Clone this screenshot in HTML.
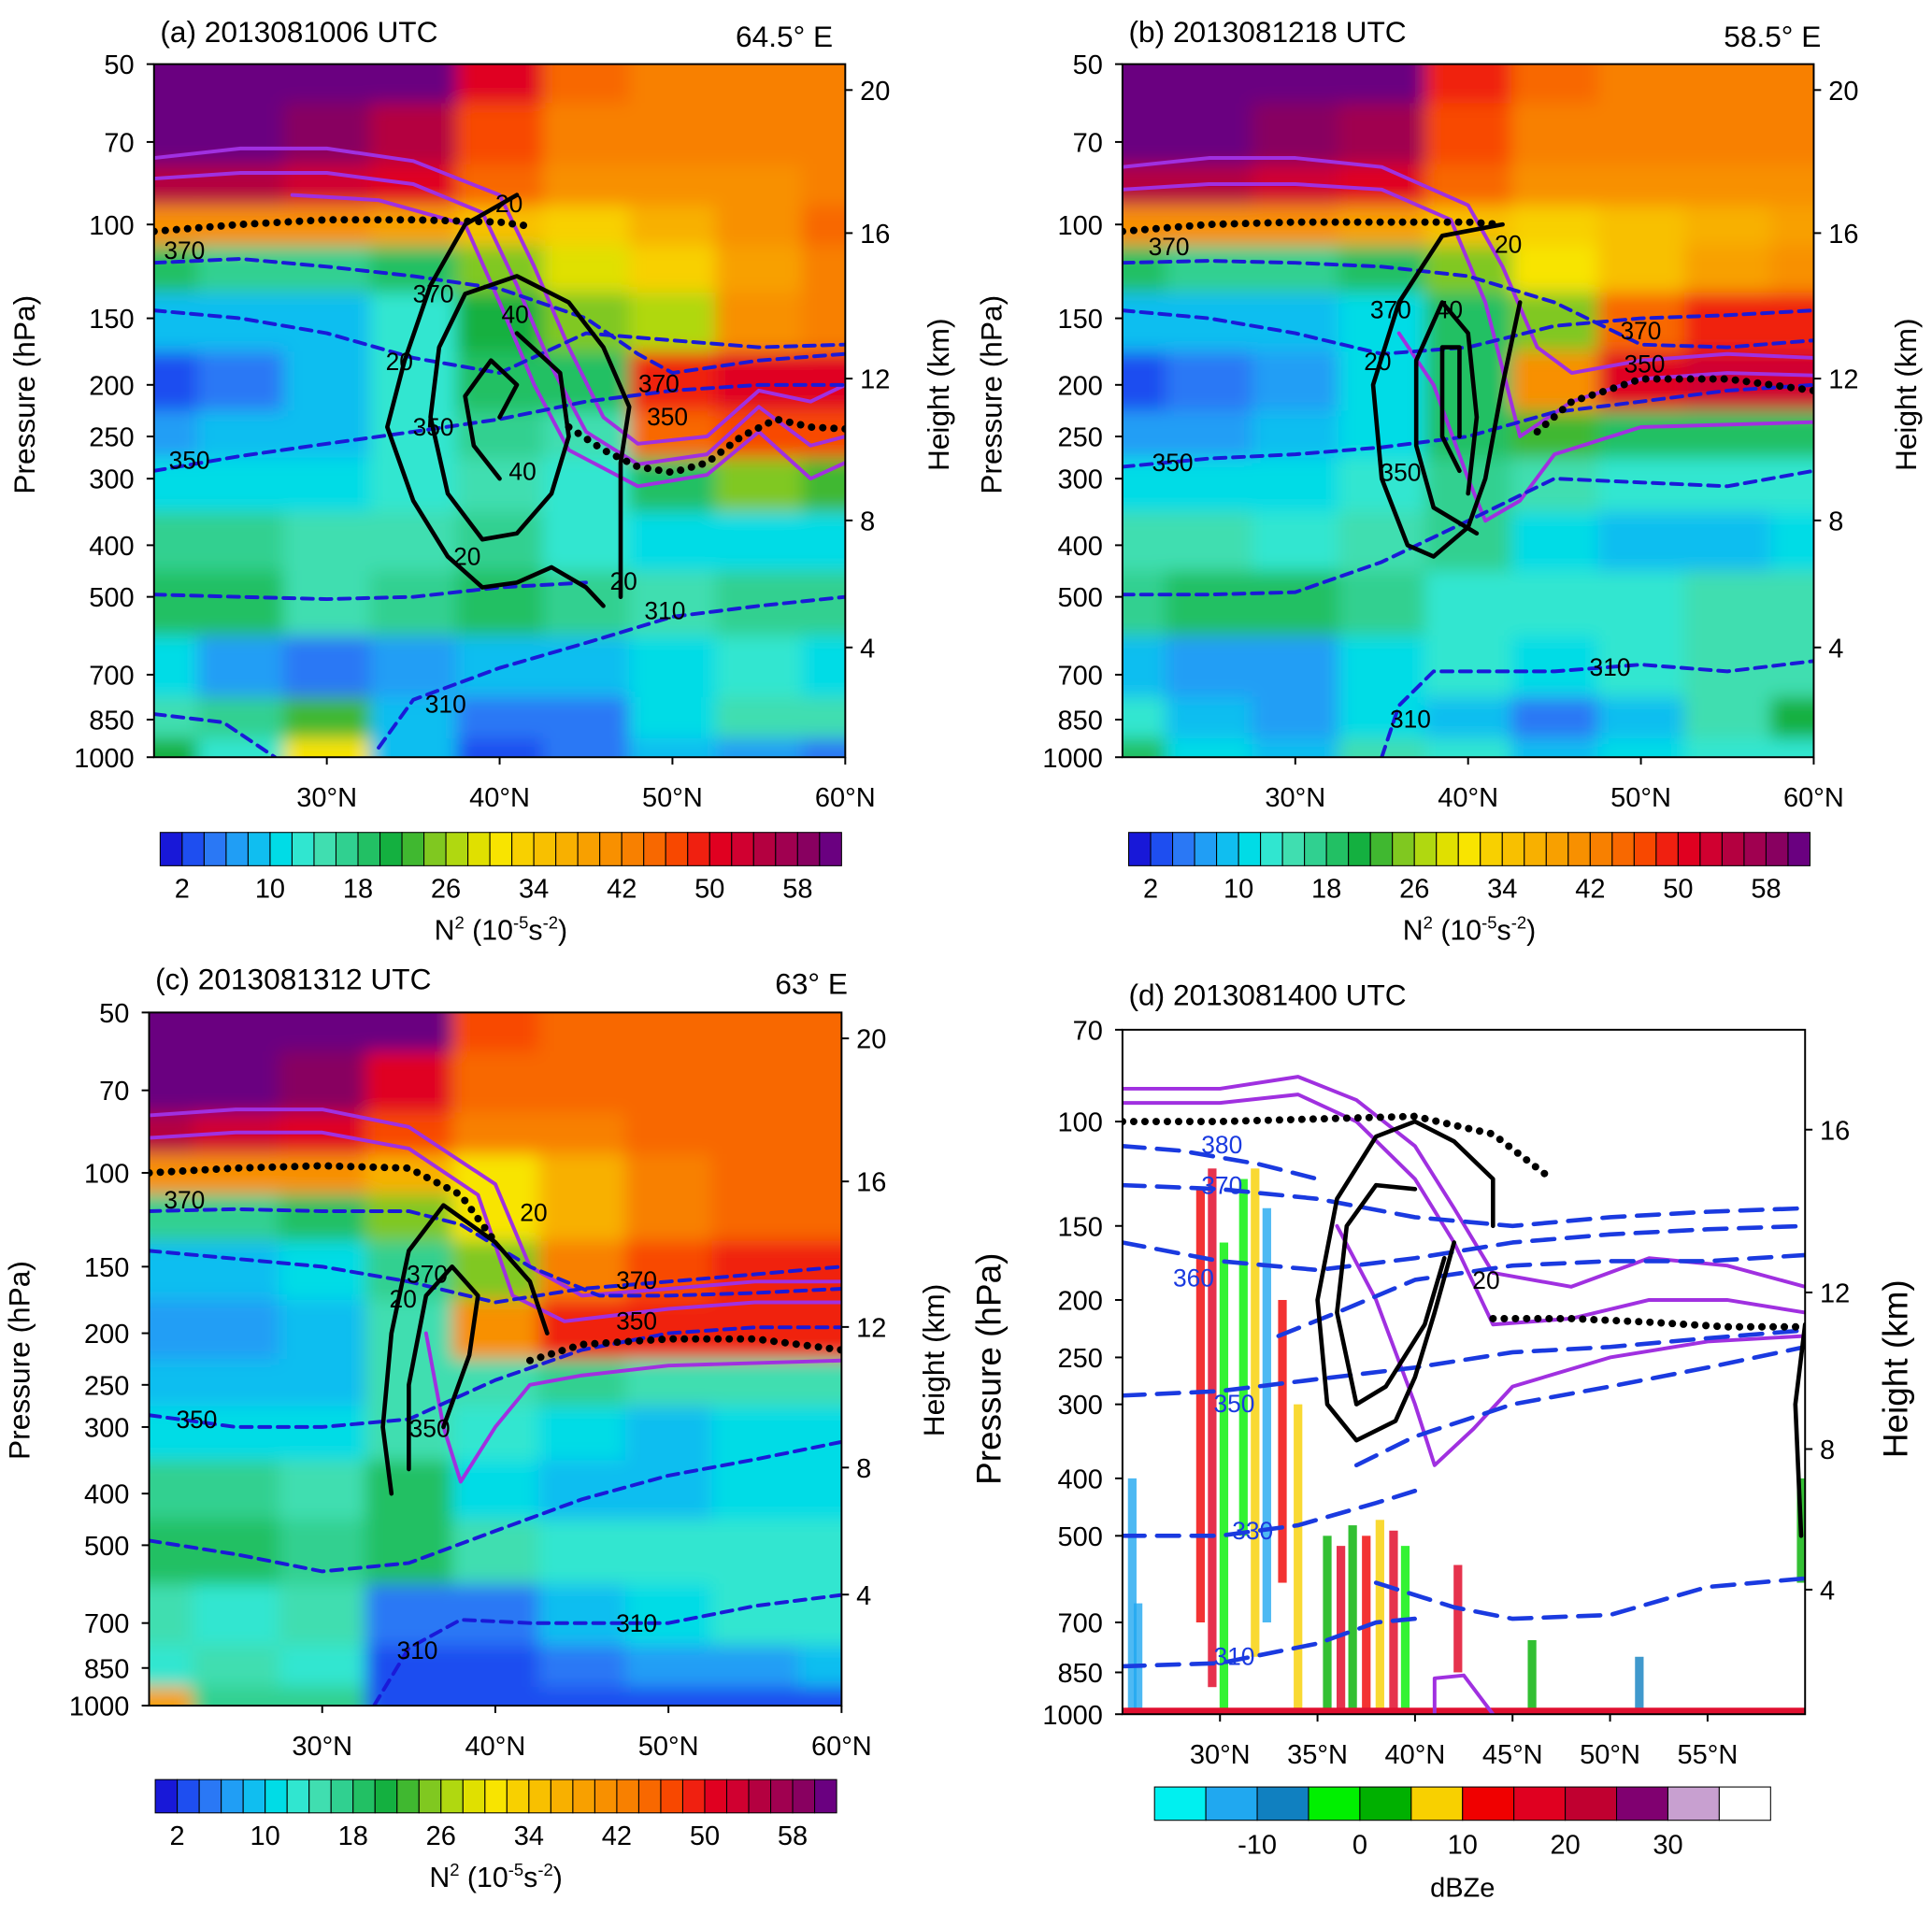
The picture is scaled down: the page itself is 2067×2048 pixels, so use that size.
<!DOCTYPE html>
<html><head><meta charset="utf-8"><style>
html,body{margin:0;padding:0;background:#fff;}
svg{display:block;font-family:"Liberation Sans",sans-serif;}
</style></head><body>
<svg id="fig" width="2067" height="2048" viewBox="0 0 1568 1552" preserveAspectRatio="none" xmlns="http://www.w3.org/2000/svg">
<defs><filter id="blur" x="-5%" y="-5%" width="110%" height="110%"><feGaussianBlur stdDeviation="7"/></filter></defs>
</svg>
<script>
// ---------- data ----------
const lats = [20,25,30,35,40,45,50,55,60];
const levels = [50,70,85,100,120,150,200,250,300,400,500,700,850,1000];
const n2A = [
[60,60,60,60,50,44,42,42,42],[60,60,58,54,46,42,42,42,42],[54,54,52,50,44,40,40,40,42],
[40,40,40,38,34,32,36,40,44],[18,16,16,18,24,28,32,38,42],[8,8,8,12,20,24,26,40,42],
[2,4,8,12,18,18,48,50,50],[6,8,8,12,16,14,44,46,46],[10,10,10,12,14,12,18,24,22],
[16,16,14,14,16,12,10,10,10],[18,18,14,16,18,16,14,16,16],[10,6,4,6,8,8,10,12,10],
[14,16,22,8,4,4,10,14,14],[20,12,30,8,2,4,8,6,4]];
const n2B = [
[60,60,60,60,48,44,42,42,42],[60,60,58,56,46,42,42,42,42],[54,54,52,50,44,40,40,40,40],
[40,40,40,38,34,32,34,36,38],[18,16,16,18,24,30,34,38,40],[8,8,8,10,18,24,44,48,48],
[2,4,6,10,18,40,50,52,52],[6,6,8,10,18,22,18,18,18],[10,10,10,12,16,14,12,12,12],
[14,14,12,14,16,10,8,8,10],[16,18,18,16,12,12,12,14,14],[8,6,6,10,12,10,12,14,14],
[12,8,6,10,8,4,8,14,20],[18,10,8,14,12,8,10,12,12]];
const n2C = [
[60,60,60,60,46,44,44,44,44],[60,60,58,50,44,44,44,44,44],[54,52,50,46,42,42,44,44,44],
[40,40,40,36,30,36,42,44,44],[16,16,18,24,30,36,42,44,44],[8,8,10,16,24,42,46,48,48],
[6,6,8,14,40,48,48,48,48],[8,8,8,14,14,16,14,14,14],[10,10,10,14,12,10,8,10,10],
[16,16,14,18,10,8,8,10,10],[18,18,16,18,14,12,12,12,12],[14,12,14,4,4,8,10,12,12],
[12,14,12,2,2,4,6,6,8],[38,16,16,2,2,2,2,2,2]];
const n2Colors = ["#1818d8","#1e4ef0","#2a78f5","#209ef5","#10bef0","#00dce6","#30e6d0","#40deb0","#30d090","#22c064","#14b040","#40b830","#80c820","#b0d810","#e0e000","#f8e400","#f8d000","#f8c000","#f8b000","#f8a000","#f89000","#f88000","#f86800","#f84800","#f02010","#e00020","#d00030","#b40040","#a00050","#880060","#6a0080"];
const n2Ticks = [2,10,18,26,34,42,50,58];
const pTicks = [50,70,100,150,200,250,300,400,500,700,850,1000];
const pTicksD = [70,100,150,200,250,300,400,500,700,850,1000];
const latTicks = [30,40,50,60];
const latTicksD = [30,35,40,45,50,55];
const zTicks = [20,16,12,8,4];
const zTicksD = [16,12,8,4];
// panel (a) lines
const tropA1 = [[20,103],[25,100],[30,98],[35,98],[40,99],[42,101]];
const tropA2 = [[44,240],[46,265],[48,285],[50,292],[52,280],[54,250],[56,232],[58,240],[60,242]];
const thA = [
 [[20,118],[25,116],[30,120],[35,125],[40,132],[45,150],[48,175],[50,190],[55,180],[60,175]],
 [[20,145],[25,150],[30,160],[35,178],[40,190],[45,160],[50,165],[55,170],[60,168]],
 [[20,290],[25,272],[30,258],[35,245],[40,232],[45,215],[50,205],[55,200],[60,200]],
 [[20,495],[25,500],[30,505],[35,500],[40,480],[45,470]],
 [[33,960],[35,780],[40,680],[45,610],[50,545],[55,520],[60,500]],
 [[20,830],[24,860],[27,1000]]];
const pvA = [
 [[41,88],[38,100],[36,130],[34.5,180],[33.5,240],[35,330],[37,420],[39,480],[41,470],[43,440],[45,480],[46,520]],
 [[47,500],[47,380],[47,280],[47.5,220],[46,170],[44,140],[41,125],[38,135],[36.5,170],[36,230],[37,320],[39,390],[41,380],[43,320],[44,250],[43.5,190],[41,160]],
 [[40,300],[38.5,260],[38,210],[39.5,180],[41,200],[40,230]]];
const puA = [
 [[20,75],[25,72],[30,72],[35,76],[40,88],[42,120],[44,170],[46,230],[48,258],[52,250],[55,205],[58,215],[60,200]],
 [[20,82],[25,80],[30,80],[35,84],[39,95],[41,130],[43,185],[45,245],[48,282],[52,270],[55,220],[58,260],[60,250]],
 [[28,88],[33,90],[38,100],[40,140],[42,200],[44,265],[48,310],[52,295],[55,245],[58,300],[60,280]]];
// panel (b)
const tropB1 = [[20,103],[25,100],[30,99],[35,99],[40,99],[42,100]];
const tropB2 = [[44,245],[46,215],[48,205],[50,195],[55,195],[60,205]];
const thB = [
 [[20,118],[25,117],[30,118],[35,120],[40,125],[45,140],[50,168],[55,170],[60,165]],
 [[20,145],[25,150],[30,160],[35,175],[40,170],[45,155],[50,150],[55,148],[60,145]],
 [[20,285],[25,275],[30,270],[35,262],[40,250],[45,225],[50,215],[55,205],[60,200]],
 [[20,495],[25,495],[30,490],[35,430],[40,360],[45,300],[50,305],[55,310],[60,290]],
 [[35,1000],[36,800],[38,690],[45,690],[50,670],[55,690],[60,660]]];
const pvB = [
 [[42,100],[38.5,105],[36,140],[34.5,200],[35,300],[36.5,400],[38,420],[40,370],[41,300],[42,200],[43,140]],
 [[40.5,380],[38,340],[37,260],[37,180],[38.5,140],[40,160],[40.5,230],[40,320]],
 [[39.5,290],[38.5,250],[38.5,170],[39.5,170],[39.5,250]]];
const puB = [
 [[20,78],[25,75],[30,75],[35,78],[40,92],[42,120],[44,170],[46,190],[50,180],[55,175],[60,178]],
 [[20,86],[25,84],[30,84],[35,86],[39,98],[41,140],[43,250],[46,215],[50,195],[55,190],[60,192]],
 [[36,160],[38,200],[40,300],[41,360],[43,330],[45,270],[50,240],[60,235]]];
// panel (c)
const tropC1 = [[20,100],[25,98],[30,97],[35,98],[38,110],[40,135]];
const tropC2 = [[42,225],[45,210],[50,205],[55,205],[60,215]];
const thC = [
 [[20,118],[25,117],[30,118],[35,118],[38,125],[42,150],[46,170],[50,170],[55,168],[60,165]],
 [[20,140],[25,145],[30,150],[35,160],[40,175],[45,165],[50,160],[55,155],[60,150]],
 [[20,285],[25,300],[30,300],[35,290],[40,245],[45,215],[50,200],[55,195],[60,195]],
 [[20,490],[25,520],[30,560],[35,540],[40,470],[45,410],[50,370],[55,345],[60,320]],
 [[33,1000],[35,780],[38,690],[42,700],[50,700],[55,650],[60,620]]];
const pvC = [
 [[34,400],[33.5,300],[34,200],[35,140],[37,115],[40,135],[42,160],[43,200]],
 [[35,360],[35,250],[36,170],[37.5,150],[39,170],[38.5,220],[37,300]]];
const puC = [
 [[20,78],[25,76],[30,76],[35,82],[40,105],[42,150],[45,170],[50,165],[55,160],[60,160]],
 [[20,86],[25,84],[30,84],[35,90],[39,110],[41,170],[44,190],[50,180],[55,175],[60,175]],
 [[36,200],[37,300],[38,380],[40,300],[42,250],[45,240],[50,230],[60,225]]];
// panel (d)
const dbzColors = ["#00f0f0","#20a8f0","#1080c0","#00f000","#00b000","#f8d000","#f00000","#e00020","#c00030","#800070","#c8a0d0","#ffffff"];
const dbzTicks = [-10,0,10,20,30];
const streakLat = [25.5,29.0,29.6,30.2,31.2,31.8,32.4,33.2,34,35.5,36.2,36.8,37.5,38.2,38.9,39.5,42.2,25.8,46,51.5,59.8];
const streakTop = [400,130,120,160,125,120,140,200,300,500,520,480,500,470,490,520,560,650,750,800,400];
const streakBot = [1000,700,900,1000,500,800,700,600,1000,1000,1000,1000,1000,1000,1000,1000,850,1000,1000,1000,600];
const streakDbz = [-15,10,15,-5,-5,5,-15,12,8,0,15,2,12,5,15,-5,15,-15,0,-10,0];
const tropD1 = [[25,100],[30,100],[35,99],[40,98],[44,105],[47,125]];
const tropD2 = [[44,215],[48,215],[52,218],[56,222],[60,222]];
const thD = [
 [[25,110],[28,112],[32,118],[35,125]],
 [[25,128],[30,130],[35,135],[40,145],[45,150],[50,145],[55,142],[60,140]],
 [[25,160],[30,172],[35,178],[40,170],[45,160],[50,155],[55,152],[60,150]],
 [[33,230],[36,210],[40,185],[45,175],[50,172],[55,172],[60,168]],
 [[25,290],[30,285],[35,272],[40,260],[45,245],[50,240],[55,232],[60,225]],
 [[37,380],[40,340],[45,300],[50,280],[55,260],[60,240]],
 [[25,500],[30,500],[34,480],[38,440],[40,420]],
 [[38,600],[42,660],[45,690],[50,680],[55,610],[60,590]],
 [[25,830],[30,820],[35,760],[38,700],[40,690]]];
const pvD = [
 [[44,150],[44,125],[42,108],[40,100],[38,106],[36,135],[35,200],[35.5,300],[37,345],[39,320],[40,270],[41,210],[42,160]],
 [[40,130],[38,128],[36.5,150],[36,210],[37,300],[38.5,280],[40.5,220],[41.5,170]],
 [[60,220],[59.5,300],[59.8,500]]];
const puD = [
 [[25,88],[30,88],[34,84],[37,92],[40,110],[42,140],[44,180],[48,190],[52,170],[56,175],[60,190]],
 [[25,93],[30,93],[34,90],[37,100],[40,125],[42,160],[44,220],[48,215],[52,200],[56,200],[60,210]],
 [[36,150],[38,200],[40,300],[41,380],[43,330],[45,280],[50,250],[55,235],[60,230]]];

// ---------- drawing ----------
const NS="http://www.w3.org/2000/svg";
const svg=document.getElementById('fig');
function el(t,a,parent){const e=document.createElementNS(NS,t);for(const k in a)e.setAttribute(k,a[k]);(parent||svg).appendChild(e);return e;}
function txt(s,x,y,size,anchor,parent){const e=el('text',{x:x,y:y,'font-size':size,'text-anchor':anchor||'middle',fill:'#000'},parent);e.textContent=s;return e;}
function mkPanel(P){
 P.X=l=>P.x0+(l-P.l0)/(P.l1-P.l0)*(P.x1-P.x0);
 P.Y=p=>P.y0+Math.log(p/P.pT)/Math.log(P.pB/P.pT)*(P.y1-P.y0);
 const g=el('g',{});
 
 
 const cp=el('clipPath',{id:'clip'+P.id});el('rect',{x:P.x0,y:P.y0,width:P.x1-P.x0,height:P.y1-P.y0},cp);
 P.g=g;P.inner=el('g',{'clip-path':'url(#clip'+P.id+')'},g);
 return P;
}
function heat(P,grid){
 const hg=el('g',{filter:'url(#blur)'},P.inner);
 
 
 for(let i=0;i<levels.length;i++){
  const pa=i==0?levels[0]*0.8:Math.sqrt(levels[i-1]*levels[i]);
  const pb=i==levels.length-1?levels[i]*1.2:Math.sqrt(levels[i]*levels[i+1]);
  for(let j=0;j<lats.length;j++){
   const xa=P.X(lats[j]-2.5-(j==0?3:0)),xb=P.X(lats[j]+2.5+(j==lats.length-1?3:0));
   const v=grid[i][j];const c=n2Colors[Math.max(0,Math.min(30,Math.floor(v/2)))];
   const r=el('rect',{x:xa,y:P.Y(pa),width:xb-xa+0.5,height:P.Y(pb)-P.Y(pa)+0.5,fill:c},hg);
   
   
  }
 }
}
function line(P,pts,style,name){
 const d=pts.map((q,i)=>(i?'L':'M')+P.X(q[0]).toFixed(1)+','+P.Y(q[1]).toFixed(1)).join(' ');
 const e=el('path',Object.assign({d:d,fill:'none','stroke-linejoin':'round','stroke-linecap':'round'},style),P.inner);
 
 
}
function axes(P,pt,lt,zt,zp){
 el('rect',{x:P.x0,y:P.y0,width:P.x1-P.x0,height:P.y1-P.y0,fill:'none',stroke:'#000','stroke-width':1.5},P.g);
 pt.forEach(p=>{const y=P.Y(p);el('line',{x1:P.x0-6,x2:P.x0,y1:y,y2:y,stroke:'#000','stroke-width':1.5},P.g);
  const t=txt(String(p),P.x0-16,y+8,22,'end',P.g);});
 lt.forEach(l=>{const x=P.X(l);el('line',{x1:x,x2:x,y1:P.y1,y2:P.y1+6,stroke:'#000','stroke-width':1.5},P.g);
  const t=txt(l+'°N',x,P.y1+40,22,'middle',P.g);});
 zt.forEach((z,i)=>{const y=zp[i];el('line',{x1:P.x1,x2:P.x1+6,y1:y,y2:y,stroke:'#000','stroke-width':1.5},P.g);
  const t=txt(String(z),P.x1+12,y+8,22,'start',P.g);});
}
function ytitle(s,x,y,size,name){const t=txt(s,0,0,size,'middle');t.setAttribute('transform','translate('+x+','+y+') rotate(-90)');}
function labelText(s,x,y,size,anchor,name,color){const t=txt(s,x,y,size,anchor||'start');if(color)t.setAttribute('fill',color);return t;}
function n2bar(x0,y0,w,h,ly,ty){
 const g=el('g',{});
 const bw=w/n2Colors.length;
 n2Colors.forEach((c,i)=>{const r=el('rect',{x:x0+i*bw,y:y0,width:bw,height:h,fill:c,stroke:'#000','stroke-width':0.8},g);});
 n2Ticks.forEach(v=>{const t=txt(String(v),x0+v/2*bw,ly,22,'middle',g);});
 const t=el('text',{x:x0+w/2,y:ty,'font-size':23,'text-anchor':'middle'},g);
 t.innerHTML='N<tspan dy="-9" font-size="14">2</tspan><tspan dy="9"> (10</tspan><tspan dy="-9" font-size="14">-5</tspan><tspan dy="9">s</tspan><tspan dy="-9" font-size="14">-2</tspan><tspan dy="9">)</tspan>';
 
}
const dotS={stroke:'#000','stroke-width':6,'stroke-dasharray':'0.1 9'};
const thS={stroke:'#1a1ad8','stroke-width':3,'stroke-dasharray':'9 6'};
const pvS={stroke:'#000','stroke-width':3.5};
const puS={stroke:'#a030e0','stroke-width':3};
function fullPanel(P,grid,trop1,trop2,th,pv,pu,hz){
 mkPanel(P);heat(P,grid);
 pu.forEach(l=>line(P,l,puS,'purple-contour'));
 th.forEach(l=>line(P,l,thS,'theta-contour'));
 pv.forEach(l=>line(P,l,pvS,'black-contour'));
 line(P,trop1,dotS,'tropopause-dots');line(P,trop2,dotS,'tropopause-dots');
 axes(P,pTicks,latTicks,zTicks,hz);
}
// panel a
const A={id:'a',name:'panel-a',x0:125,x1:686,y0:52,y1:614,pT:50,pB:1000,l0:20,l1:60};
fullPanel(A,n2A,tropA1,tropA2,thA,pvA,puA,[73,189,307,422,525]);
[['370',133,210],['370',335,245],['350',335,353],['350',137,380],['20',402,172],['40',407,262],['40',413,389],['20',313,300],['20',368,458],['20',495,478],['310',523,502],['310',345,578],['370',518,318],['350',525,345]].forEach(q=>labelText(q[0],q[1],q[2],20,'start','contour-label'));
labelText('(a) 2013081006 UTC',130,34,24,'start','panel-a-title');
labelText('64.5° E',676,38,24,'end','panel-a-longitude');
ytitle('Pressure (hPa)',28,320,24,'y-axis-title');ytitle('Height (km)',770,320,24,'y2-axis-title');
n2bar(130,675,553,27,728,762);
// panel b
const B={id:'b',name:'panel-b',x0:911,x1:1472,y0:52,y1:614,pT:50,pB:1000,l0:20,l1:60};
fullPanel(B,n2B,tropB1,tropB2,thB,pvB,puB,[73,189,307,422,525]);
[['370',932,207],['370',1112,258],['40',1165,258],['20',1213,205],['20',1107,300],['350',1120,390],['350',935,382],['370',1315,275],['350',1318,302],['310',1290,548],['310',1128,590]].forEach(q=>labelText(q[0],q[1],q[2],20,'start','contour-label'));
labelText('(b) 2013081218 UTC',916,34,24,'start','panel-b-title');
labelText('58.5° E',1478,38,24,'end','panel-b-longitude');
ytitle('Pressure (hPa)',813,320,24,'y-axis-title');ytitle('Height (km)',1555,320,24,'y2-axis-title');
n2bar(916,675,553,27,728,762);
// panel c
const C={id:'c',name:'panel-c',x0:121,x1:683,y0:821,y1:1383,pT:50,pB:1000,l0:20,l1:60};
fullPanel(C,n2C,tropC1,tropC2,thC,pvC,puC,[842,958,1076,1190,1293]);
[['370',133,980],['20',316,1060],['370',330,1040],['20',422,990],['370',500,1045],['350',500,1078],['350',143,1158],['350',332,1165],['310',500,1323],['310',322,1345]].forEach(q=>labelText(q[0],q[1],q[2],20,'start','contour-label'));
labelText('(c) 2013081312 UTC',126,802,24,'start','panel-c-title');
labelText('63° E',688,806,24,'end','panel-c-longitude');
ytitle('Pressure (hPa)',24,1103,24,'y-axis-title');ytitle('Height (km)',766,1103,24,'y2-axis-title');
n2bar(126,1443,553,27,1496,1530);
// panel d
const D=mkPanel({id:'d',name:'panel-d',x0:911,x1:1465,y0:835,y1:1390,pT:70,pB:1000,l0:25,l1:60});
const sg=el('g',{},D.inner);
streakLat.forEach((l,i)=>{const c=dbzColors[Math.max(0,Math.min(11,Math.floor((streakDbz[i]+20)/5)))];
 const r=el('rect',{x:D.X(l)-3.5,y:D.Y(streakTop[i]),width:7,height:D.Y(streakBot[i])-D.Y(streakTop[i]),fill:c,opacity:0.8},sg);
 });
const sfc=el('rect',{x:D.x0,y:D.Y(975),width:D.x1-D.x0,height:D.y1-D.Y(975),fill:'#e01030'},sg);

puD.forEach(l=>line(D,l,puS,'purple-contour'));
line(D,[[41,1000],[41,870],[42.5,860],[44,1000]],puS,'purple-contour');
thD.forEach(l=>line(D,l,{stroke:'#1a3ae0','stroke-width':3.5,'stroke-dasharray':'18 10'},'theta-contour'));
pvD.forEach(l=>line(D,l,pvS,'black-contour'));
line(D,tropD1,dotS,'tropopause-dots');line(D,tropD2,dotS,'tropopause-dots');
axes(D,pTicksD,latTicksD,zTicksD,[916,1048,1175,1289]);
[['380',975,935],['370',975,968],['360',952,1043],['350',985,1145],['330',1000,1248],['310',985,1350]].forEach(q=>labelText(q[0],q[1],q[2],20,'start','contour-label','#1a3ae0'));
labelText('20',1195,1045,20,'start','contour-label');
labelText('(d) 2013081400 UTC',916,815,24,'start','panel-d-title');
ytitle('Pressure (hPa)',812,1110,28,'y-axis-title');ytitle('Height (km)',1548,1110,28,'y2-axis-title');
const dg=el('g',{});
const dbw=500/dbzColors.length;
dbzColors.forEach((c,i)=>{const r=el('rect',{x:937+i*dbw,y:1449,width:dbw,height:27,fill:c,stroke:'#000','stroke-width':0.8},dg);});
dbzTicks.forEach(v=>{const t=txt(String(v),937+(v+20)/5*dbw,1503,22,'middle',dg);});
labelText('dBZe',1187,1538,22,'middle','colorbar-title');
</script>
</body></html>
